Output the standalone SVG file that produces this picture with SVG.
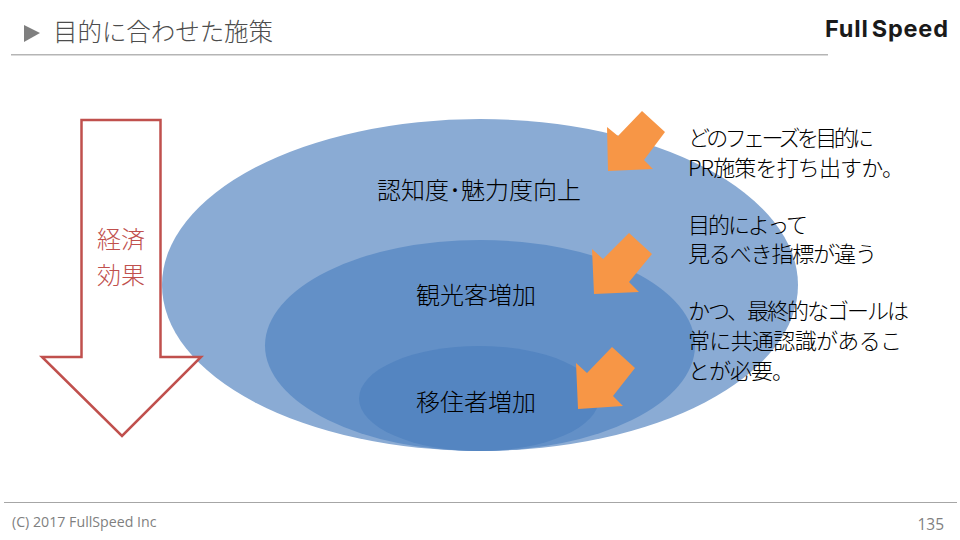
<svg xmlns="http://www.w3.org/2000/svg" width="960" height="540" viewBox="0 0 960 540">
<style>
text{font-family:"Noto Sans CJK JP","Open Sans",sans-serif;font-weight:300}
.b{font-size:22px;fill:#000}
.c{font-size:24px;fill:#000;text-anchor:middle}
.o{fill:#F79646}
.e1{fill:#8AABD4}.e2{fill:#6390C7}.e3{fill:#5485C1}
.r{font-size:24px;fill:#C0504D;text-anchor:middle}
.f{fill:#7f7f7f;font-family:"Open Sans",sans-serif;font-weight:400}
</style>
<rect width="960" height="540" fill="#fff"/>
<g id="header">
<polygon points="24,25 40,33 24,42" fill="#7f7f7f"/>
<text x="53" y="41" font-size="24.5" fill="#4d4d4d" textLength="220">目的に合わせた施策</text>
<rect x="11" y="54" width="817" height="1.5" fill="#b5b5b5"/>
<text x="825" y="37" font-size="23.5" fill="#1a1a1a" textLength="123" style="font-family:Inter,'Liberation Sans',sans-serif;font-weight:700">Full<tspan dx="3">Speed</tspan></text>
</g>
<g id="ellipse-outer"><ellipse class="e1" cx="480" cy="285" rx="318" ry="166"/><text class="c" x="479" y="199">認知度･魅力度向上</text></g>
<g id="ellipse-middle"><ellipse class="e2" cx="480" cy="345.5" rx="215" ry="105.5"/><text class="c" x="476" y="304">観光客増加</text></g>
<g id="ellipse-inner"><ellipse class="e3" cx="479" cy="398.5" rx="120" ry="52.5"/><text class="c" x="476" y="411">移住者増加</text></g>
<g id="arrow-down">
<polygon points="81.500,120 160.500,120 160.500,357 201,357 122,436 42,357 81.500,357" fill="#fff" stroke="#C0504D" stroke-width="2.500"/>
<text class="r" x="121" y="248">経済</text>
<text class="r" x="121" y="284">効果</text>
</g>
<g id="connectors">
<polygon class="o" points="607,127 608,171 653,169 644,160 665,132 642,111 618,136"/>
<polygon class="o" points="592,249 594,294 639,292 629,282 652,254 629,233 603,259"/>
<polygon class="o" points="576,363 578,409 623,406 613,396 635,368 612,347 587,373"/>
</g>
<g id="note">
<text class="b" x="688" y="146" textLength="186">どのフェーズを目的に</text>
<text class="b" x="688" y="176" textLength="216">PR施策を打ち出すか。</text>
<text class="b" x="688" y="233" textLength="120">目的によって</text>
<text class="b" x="688" y="262" textLength="189">見るべき指標が違う</text>
<text class="b" x="688" y="319" textLength="221">かつ、最終的なゴールは</text>
<text class="b" x="688" y="349" textLength="214">常に共通認識があるこ</text>
<text class="b" x="688" y="379" textLength="106">とが必要。</text>
</g>
<g id="footer">
<rect x="4" y="502" width="953" height="1" fill="#a6a6a6"/>
<text class="f" x="12" y="527" font-size="14.200">(C) 2017 FullSpeed Inc</text>
<text class="f" x="944" y="530" font-size="15.500" text-anchor="end">135</text>
</g>
</svg>
